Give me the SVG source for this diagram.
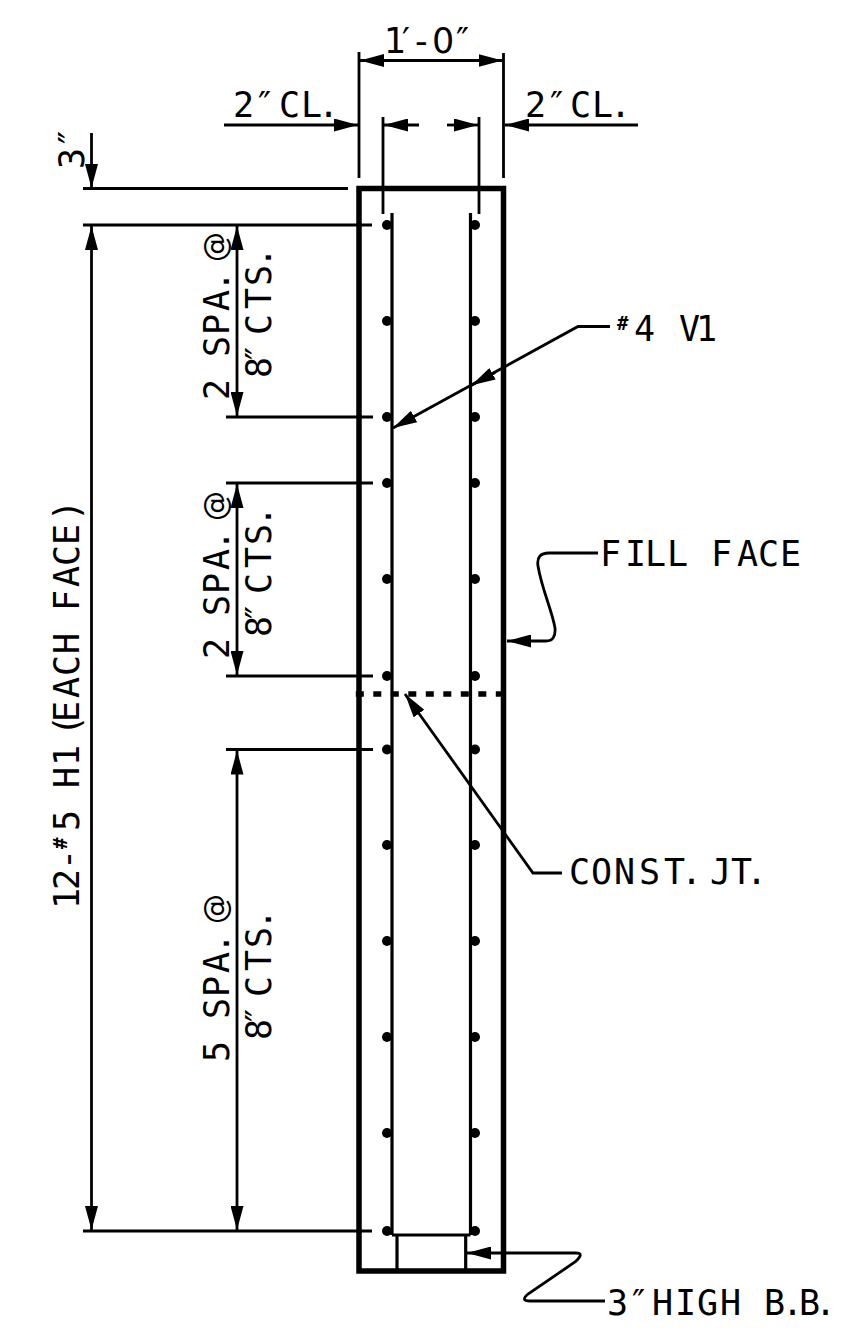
<svg xmlns="http://www.w3.org/2000/svg" width="858" height="1332" viewBox="0 0 858 1332">
<style>
.l{fill:none;stroke:#000;stroke-width:2.8}
.w{fill:none;stroke:#000;stroke-width:5.5}
.b{fill:none;stroke:#000;stroke-width:3.2}
.d{fill:#000}
.t{font-family:"DejaVu Sans Mono","Liberation Mono",monospace;font-size:35px;fill:#000}
.s{font-size:19px;font-weight:bold}
.z{font-family:"DejaVu Sans",sans-serif}
.o{font-family:"DejaVu Sans",sans-serif;font-size:30px}
</style>
<defs>
<marker id="a" markerUnits="userSpaceOnUse" viewBox="0 -6.5 24 13" refX="24" refY="0" markerWidth="24" markerHeight="13" orient="auto-start-reverse"><path d="M0-6.5L24 0L0 6.5z"/></marker>
</defs>
<rect width="858" height="1332" fill="#fff"/>
<g id="wall">
<path class="w" d="M359 188.500V1271H503.500V188.500z"/>
<path class="w" d="M355.800 694H503.800" stroke-dasharray="8 9.5"/>
</g>
<g id="bars">
<path class="b" d="M392 213V1235M470.500 213V1235M392 1235H470.500"/>
<g class="d">
<circle cx="387" cy="225" r="5"/><circle cx="387" cy="321" r="5"/><circle cx="387" cy="417" r="5"/><circle cx="387" cy="483" r="5"/><circle cx="387" cy="579" r="5"/><circle cx="387" cy="676" r="5"/><circle cx="387" cy="749.500" r="5"/><circle cx="387" cy="845" r="5"/><circle cx="387" cy="941" r="5"/><circle cx="387" cy="1037" r="5"/><circle cx="387" cy="1133" r="5"/><circle cx="387" cy="1231" r="5"/>
<circle cx="475" cy="225" r="5"/><circle cx="475" cy="321" r="5"/><circle cx="475" cy="417" r="5"/><circle cx="475" cy="483" r="5"/><circle cx="475" cy="579" r="5"/><circle cx="475" cy="676" r="5"/><circle cx="475" cy="749.500" r="5"/><circle cx="475" cy="845" r="5"/><circle cx="475" cy="941" r="5"/><circle cx="475" cy="1037" r="5"/><circle cx="475" cy="1133" r="5"/><circle cx="475" cy="1231" r="5"/>
</g>
</g>
<g id="block"><path class="b" d="M397 1235V1271M465.700 1235V1271"/></g>
<g id="connectors">
<path class="l" d="M359 52V178M503.500 53V178M383 117V214M479 117V214"/>
<path class="l" d="M83 188.500H348M83 225H372M83 1231H372M226 417H373M226 483H373M226 676H373M226 749.500H373"/>
<path class="l" d="M360 60.500H502.500" marker-start="url(#a)" marker-end="url(#a)"/>
<path class="l" d="M224 125H358" marker-end="url(#a)"/>
<path class="l" d="M638 125H505" marker-end="url(#a)"/>
<path class="l" d="M419 125H384" marker-end="url(#a)"/>
<path class="l" d="M447 125H478" marker-end="url(#a)"/>
<path class="l" d="M91.500 133V188" marker-end="url(#a)"/>
<path class="l" d="M91.500 226V1230" marker-start="url(#a)" marker-end="url(#a)"/>
<path class="l" d="M237 226V416" marker-start="url(#a)" marker-end="url(#a)"/>
<path class="l" d="M237 484V675" marker-start="url(#a)" marker-end="url(#a)"/>
<path class="l" d="M237 750.500V1230" marker-start="url(#a)" marker-end="url(#a)"/>
<path class="l" d="M610 326.500H578L393 428" marker-end="url(#a)"/>
<path class="l" d="M495 372.400L471.500 385.300" marker-end="url(#a)"/>
<path class="l" d="M598 553H549Q536 553 538 566C542 590 552 610 555 628Q556 641 546 641H507" marker-end="url(#a)"/>
<path class="l" d="M562 873H533L405 694" marker-end="url(#a)"/>
<path class="l" d="M605 1301H530Q520 1301 528 1294L575 1262Q585 1253 576 1253H467" marker-end="url(#a)"/>
</g>
<g id="labels" class="t">
<text class="z" y="53" x="384 402 415 432 456">1′-0″</text>
<text y="117" x="233 254 268 279 301 318">2″ CL.</text>
<text y="117" x="525 546 560 570 592 610">2″ CL.</text>
<text transform="translate(84 166) rotate(-90)" x="-3 18">3″</text>
<text transform="translate(79 906) rotate(-90)"><tspan x="-3 16 36">12-</tspan><tspan class="s" x="57" y="-12">#</tspan><tspan y="0" x="75 96 118 140 158 170 184 208 230 252 275 295 319 340 361 385">5 H1 (EACH FACE)</tspan></text>
<text transform="translate(229 397) rotate(-90)"><tspan x="-3 20 40 62 86 105 120">2 SPA. </tspan><tspan class="o" x="135" y="-3">@</tspan></text>
<text transform="translate(271 376) rotate(-90)" x="-2 12 41 67 90 108">8″CTS.</text>
<text transform="translate(229 656) rotate(-90)"><tspan x="-3 20 40 62 86 105 120">2 SPA. </tspan><tspan class="o" x="135" y="-3">@</tspan></text>
<text transform="translate(271 635) rotate(-90)" x="-2 12 41 67 90 108">8″CTS.</text>
<text transform="translate(229 1059) rotate(-90)"><tspan x="-3 20 40 62 86 105 120">5 SPA. </tspan><tspan class="o" x="135" y="-3">@</tspan></text>
<text transform="translate(271 1038) rotate(-90)" x="-2 12 41 67 90 108">8″CTS.</text>
<text y="341"><tspan class="s" x="617" y="330">#</tspan><tspan y="341" x="634 660 679 696">4 V1</tspan></text>
<text y="566" x="600 625 645 667 690 711 737 758 780">FILL FACE</text>
<text y="884" x="569 591 614 639 664 681 690 710 731 746">CONST. JT.</text>
<text y="1315" x="607 628 642 652 675 697 720 742 764 782 799 815">3″ HIGH B.B.</text>
</g>
</svg>
